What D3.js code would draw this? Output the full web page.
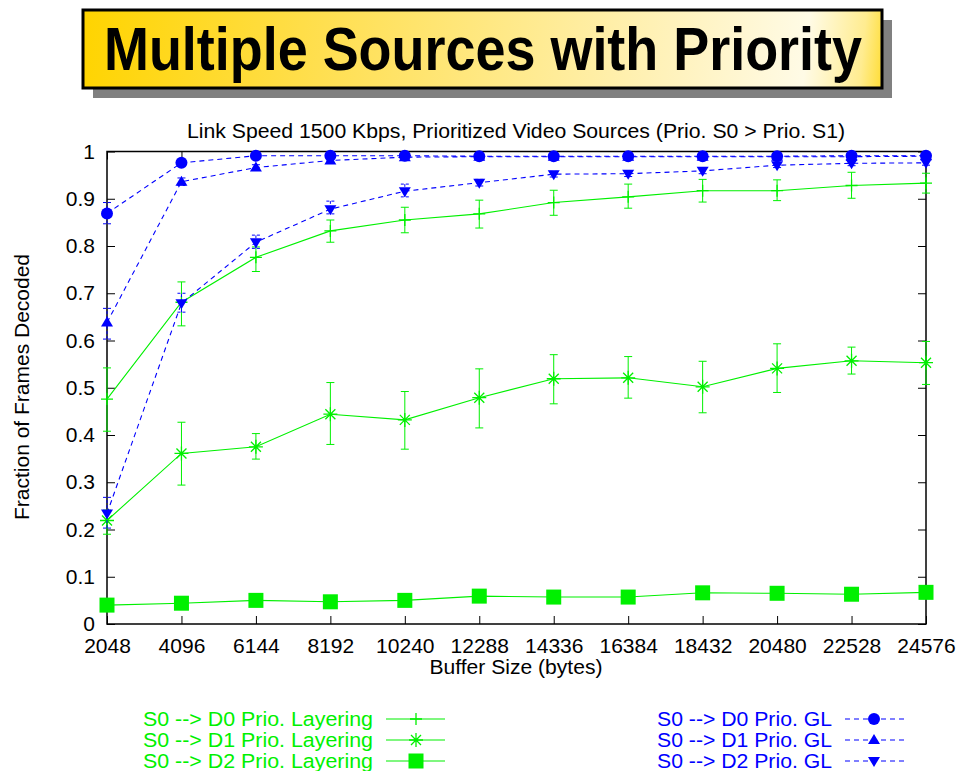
<!DOCTYPE html>
<html>
<head>
<meta charset="utf-8">
<script src="https://cdn.jsdelivr.net/npm/d3@7"></script>
<style>
  html, body { margin: 0; padding: 0; background: #fff; }
  svg { display: block; font-family: "Liberation Sans", Arial, Helvetica, sans-serif; }
</style>
</head>
<body>
<svg id="chart" width="958" height="771"></svg>
<script>
// Buffer sizes on the x axis (bytes)
const bufferSizes = [2048, 4096, 6144, 8192, 10240, 12288, 14336, 16384, 18432, 20480, 22528, 24576];
const yTicks = [0, 0.1, 0.2, 0.3, 0.4, 0.5, 0.6, 0.7, 0.8, 0.9, 1];

// Prioritized layering (green, solid, with error bars)
const layerD0 = [0.476, 0.681, 0.776, 0.832, 0.855, 0.868, 0.892, 0.904, 0.917, 0.917, 0.928, 0.933];
const layerD0Lo = [0.408, 0.631, 0.746, 0.808, 0.828, 0.838, 0.865, 0.880, 0.893, 0.896, 0.901, 0.912];
const layerD0Hi = [0.542, 0.724, 0.798, 0.855, 0.882, 0.897, 0.918, 0.931, 0.941, 0.940, 0.956, 0.954];

const layerD1 = [0.219, 0.361, 0.375, 0.444, 0.432, 0.479, 0.519, 0.521, 0.502, 0.541, 0.557, 0.553];
const layerD1Lo = [0.190, 0.294, 0.349, 0.380, 0.370, 0.415, 0.466, 0.478, 0.447, 0.490, 0.529, 0.507];
const layerD1Hi = [0.241, 0.427, 0.403, 0.511, 0.492, 0.540, 0.570, 0.566, 0.556, 0.593, 0.586, 0.598];

const layerD2 = [0.040, 0.044, 0.050, 0.047, 0.050, 0.059, 0.057, 0.057, 0.066, 0.065, 0.063, 0.067];

// Prioritized GL (blue, dashed)
const glD0 = [0.869, 0.976, 0.991, 0.991, 0.991, 0.990, 0.990, 0.990, 0.990, 0.990, 0.991, 0.991];
const glD0Lo = [0.847, 0.972, 0.988, 0.988, 0.988, 0.988, 0.988, 0.988, 0.988, 0.988, 0.988, 0.988];
const glD0Hi = [0.892, 0.980, 0.994, 0.994, 0.994, 0.993, 0.993, 0.993, 0.993, 0.993, 0.994, 0.994];

const glD1 = [0.638, 0.936, 0.966, 0.981, 0.988, 0.989, 0.989, 0.989, 0.989, 0.989, 0.989, 0.990];
const glD1Lo = [0.603, 0.928, 0.960, 0.976, 0.985, 0.986, 0.986, 0.986, 0.986, 0.986, 0.986, 0.987];
const glD1Hi = [0.668, 0.944, 0.972, 0.986, 0.991, 0.992, 0.992, 0.992, 0.992, 0.992, 0.992, 0.993];

const glD2 = [0.234, 0.679, 0.808, 0.878, 0.916, 0.934, 0.952, 0.953, 0.959, 0.971, 0.975, 0.976];
const glD2Lo = [0.203, 0.660, 0.795, 0.868, 0.904, 0.927, 0.946, 0.947, 0.953, 0.966, 0.970, 0.971];
const glD2Hi = [0.268, 0.700, 0.823, 0.895, 0.931, 0.941, 0.958, 0.959, 0.965, 0.976, 0.980, 0.981];

const legendLeft = ["S0 --> D0 Prio. Layering", "S0 --> D1 Prio. Layering", "S0 --> D2 Prio. Layering"];
const legendRight = ["S0 --> D0 Prio. GL", "S0 --> D1 Prio. GL", "S0 --> D2 Prio. GL"];

const GREEN = "#00f000";
const BLUE = "#0000ff";
const FS = 20.5;

const svg = d3.select("#chart");

// ---- Title banner ----
const defs = svg.append("defs");
const grad = defs.append("linearGradient")
  .attr("id", "banner")
  .attr("gradientUnits", "userSpaceOnUse")
  .attr("x1", 83).attr("y1", 20).attr("x2", 882).attr("y2", 100);
[[0, "#ffd400"], [0.3, "#ffdf50"], [0.75, "#fff3c0"], [0.9, "#fffbe6"], [0.97, "#ffec90"], [1, "#ffdc30"]]
  .forEach(([o, c]) => grad.append("stop").attr("offset", o).attr("stop-color", c));

svg.append("rect").attr("x", 93).attr("y", 20).attr("width", 799).attr("height", 78).attr("fill", "#808080");
svg.append("rect").attr("x", 83).attr("y", 10).attr("width", 799).attr("height", 78)
  .attr("fill", "url(#banner)").attr("stroke", "#000").attr("stroke-width", 3);
// Bold title, squeezed horizontally to sit inside the banner
svg.append("text")
  .attr("transform", "translate(483,70) scale(0.87,1)")
  .attr("text-anchor", "middle")
  .attr("font-size", 62).attr("font-weight", "bold")
  .text("Multiple Sources with Priority");

// ---- Plot area ----
const x = d3.scaleLinear().domain([2048, 24576]).range([107, 926]);
const y = d3.scaleLinear().domain([0, 1]).range([624, 151.5]);

svg.append("text").attr("x", 516).attr("y", 138).attr("text-anchor", "middle")
  .attr("font-size", 19.5).attr("textLength", 658).attr("lengthAdjust", "spacingAndGlyphs")
  .text("Link Speed 1500 Kbps, Prioritized Video Sources (Prio. S0 > Prio. S1)");

// Axes with inward ticks, mirrored on the opposite sides
const axisStyle = g => {
  g.select(".domain").remove();
  g.selectAll("line").attr("stroke", "#000").attr("stroke-width", 1);
  g.selectAll("text").attr("font-size", FS + 0.5).attr("fill", "#000").attr("font-family", "Liberation Sans, Arial, sans-serif");
};

svg.append("g").attr("transform", "translate(0,624)")
  .call(d3.axisBottom(x).tickValues(bufferSizes).tickFormat(d3.format("d")).tickSize(-8).tickPadding(14))
  .call(axisStyle);
svg.append("g").attr("transform", "translate(0,151.5)")
  .call(d3.axisTop(x).tickValues(bufferSizes).tickFormat("").tickSize(-8))
  .call(axisStyle);
svg.append("g").attr("transform", "translate(107,0)")
  .call(d3.axisLeft(y).tickValues(yTicks).tickFormat(d => d === 0 ? "0" : d === 1 ? "1" : d3.format(".1f")(d)).tickSize(-8).tickPadding(12))
  .call(axisStyle);
svg.append("g").attr("transform", "translate(926,0)")
  .call(d3.axisRight(y).tickValues(yTicks).tickFormat("").tickSize(-8))
  .call(axisStyle);

svg.append("rect").attr("x", 107).attr("y", 151.5).attr("width", 819).attr("height", 472.5)
  .attr("fill", "none").attr("stroke", "#000").attr("stroke-width", 1.5);

svg.append("text").attr("x", 516).attr("y", 674).attr("text-anchor", "middle")
  .attr("font-size", FS).attr("textLength", 173).attr("lengthAdjust", "spacingAndGlyphs")
  .text("Buffer Size (bytes)");
svg.append("text").attr("transform", "translate(29,387) rotate(-90)").attr("text-anchor", "middle")
  .attr("font-size", FS).attr("textLength", 266).attr("lengthAdjust", "spacingAndGlyphs")
  .text("Fraction of Frames Decoded");

// ---- Marker shapes ----
function drawMarker(g, type, cx, cy, color) {
  if (type === "plus") {
    g.append("path").attr("d", `M${cx - 6},${cy}H${cx + 6}M${cx},${cy - 6}V${cy + 6}`)
      .attr("stroke", color).attr("stroke-width", 1.3).attr("fill", "none");
  } else if (type === "star") {
    const s = 7, d = 5;
    g.append("path").attr("d", `M${cx - s},${cy}H${cx + s}M${cx},${cy - s}V${cy + s}M${cx - d},${cy - d}L${cx + d},${cy + d}M${cx - d},${cy + d}L${cx + d},${cy - d}`)
      .attr("stroke", color).attr("stroke-width", 1.3).attr("fill", "none");
  } else if (type === "square") {
    g.append("rect").attr("x", cx - 7.5).attr("y", cy - 7.5).attr("width", 15).attr("height", 15).attr("fill", color);
  } else if (type === "circle") {
    g.append("circle").attr("cx", cx).attr("cy", cy).attr("r", 6).attr("fill", color);
  } else if (type === "up") {
    g.append("path").attr("d", `M${cx},${cy - 6}L${cx + 6},${cy + 4}L${cx - 6},${cy + 4}Z`).attr("fill", color);
  } else if (type === "down") {
    g.append("path").attr("d", `M${cx},${cy + 6}L${cx + 6},${cy - 4}L${cx - 6},${cy - 4}Z`).attr("fill", color);
  }
}

const series = [
  { v: layerD0, lo: layerD0Lo, hi: layerD0Hi, color: GREEN, dash: null, marker: "plus" },
  { v: layerD1, lo: layerD1Lo, hi: layerD1Hi, color: GREEN, dash: null, marker: "star" },
  { v: layerD2, lo: null, hi: null, color: GREEN, dash: null, marker: "square" },
  { v: glD0, lo: glD0Lo, hi: glD0Hi, color: BLUE, dash: "5,4", marker: "circle" },
  { v: glD1, lo: glD1Lo, hi: glD1Hi, color: BLUE, dash: "5,4", marker: "up" },
  { v: glD2, lo: glD2Lo, hi: glD2Hi, color: BLUE, dash: "5,4", marker: "down" }
];

const line = d3.line().x((d, i) => x(bufferSizes[i])).y(d => y(d));
const plot = svg.append("g");

series.forEach(s => {
  const g = plot.append("g");
  if (s.lo) {
    bufferSizes.forEach((b, i) => {
      const cx = x(b), y1 = y(s.lo[i]), y2 = y(s.hi[i]);
      g.append("path").attr("d", `M${cx},${y1}V${y2}M${cx - 4},${y1}H${cx + 4}M${cx - 4},${y2}H${cx + 4}`)
        .attr("stroke", s.color).attr("stroke-width", 1).attr("fill", "none")
        .attr("stroke-dasharray", s.dash ? "3,2" : null);
    });
  }
  g.append("path").datum(s.v).attr("d", line)
    .attr("fill", "none").attr("stroke", s.color).attr("stroke-width", 1.1)
    .attr("stroke-dasharray", s.dash);
  s.v.forEach((v, i) => drawMarker(g, s.marker, x(bufferSizes[i]), y(v), s.color));
});

// ---- Legends ----
const leftMarkers = ["plus", "star", "square"];
const rightMarkers = ["circle", "up", "down"];
const rowY = [719, 740, 761];

legendLeft.forEach((t, i) => {
  svg.append("text").attr("x", 373).attr("y", rowY[i] + 7).attr("text-anchor", "end")
    .attr("font-size", FS).attr("fill", GREEN)
    .attr("textLength", 230).attr("lengthAdjust", "spacingAndGlyphs").text(t);
  svg.append("line").attr("x1", 386).attr("x2", 445).attr("y1", rowY[i]).attr("y2", rowY[i])
    .attr("stroke", GREEN).attr("stroke-width", 1.1);
  drawMarker(svg, leftMarkers[i], 416, rowY[i], GREEN);
});
legendRight.forEach((t, i) => {
  svg.append("text").attr("x", 832).attr("y", rowY[i] + 7).attr("text-anchor", "end")
    .attr("font-size", FS).attr("fill", BLUE)
    .attr("textLength", 175).attr("lengthAdjust", "spacingAndGlyphs").text(t);
  svg.append("line").attr("x1", 845).attr("x2", 904).attr("y1", rowY[i]).attr("y2", rowY[i])
    .attr("stroke", BLUE).attr("stroke-width", 1.1).attr("stroke-dasharray", "5,4");
  drawMarker(svg, rightMarkers[i], 874, rowY[i], BLUE);
});
</script>
</body>
</html>
